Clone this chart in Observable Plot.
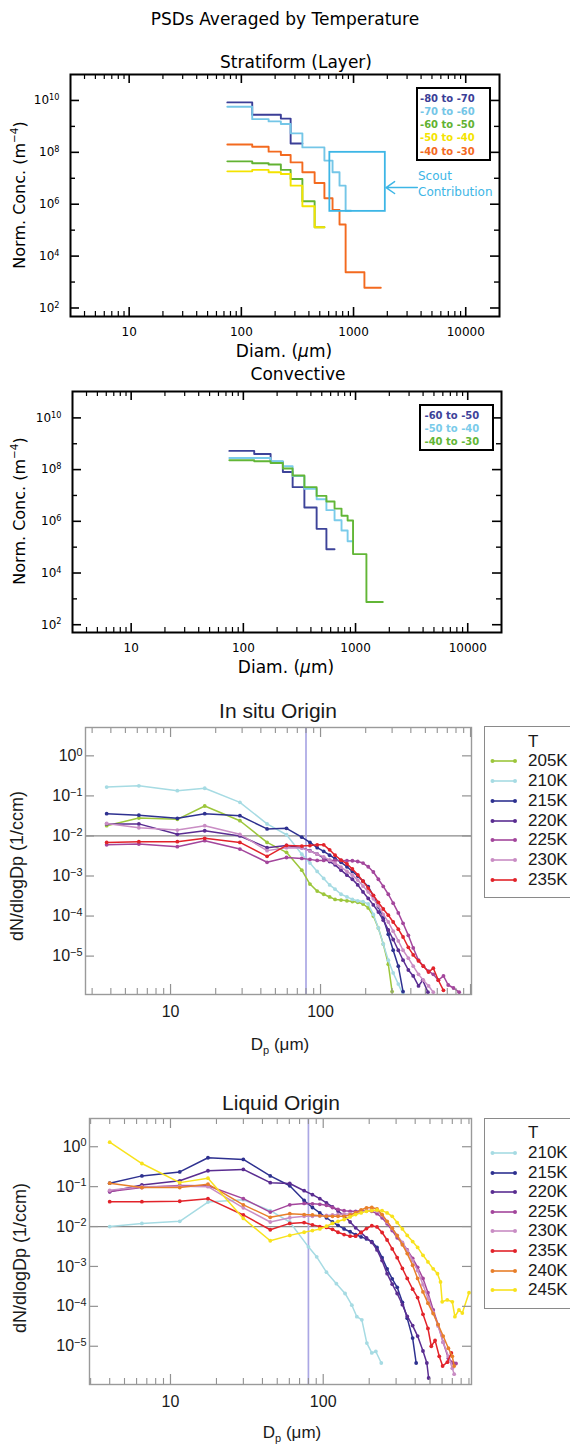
<!DOCTYPE html>
<html>
<head>
<meta charset="utf-8">
<script src="https://cdn.jsdelivr.net/npm/d3@7"></script>
<script src="https://cdn.jsdelivr.net/npm/@observablehq/plot@0.6"></script>
<style>
  html,body{margin:0;padding:0;background:#fff;}
  #root{position:relative;width:570px;height:1445px;overflow:hidden;background:#fff;}
  #root svg.plot{position:absolute;left:0;}
  .t{position:absolute;white-space:nowrap;line-height:1;}
  .t sup{font-size:65%;vertical-align:super;line-height:0;}
  .t sub{font-size:65%;vertical-align:sub;line-height:0;}
</style>
</head>
<body>
<div id="root"></div>
<script>
// ================= DATA =================
// --- IDL panels (Stratiform / Convective), step PSDs, bin edges in micrometres ---
const binEdges = [75, 125, 175, 225, 275, 350, 450, 550, 650, 750, 850, 950, 1250, 1750];

const stratLabels = ["-80 to -70", "-70 to -60", "-60 to -50", "-50 to -40", "-40 to -30"];
const stratColors = ["#3b3e97", "#74c6e7", "#62b232", "#f4e300", "#f36a1f"];
const strat8070 = [8.4e9, 2.8e9, 2.8e9, 2.0e9, 2.2e8];
const strat7060 = [5.7e9, 1.9e9, 1.56e9, 1.24e9, 5.4e8, 1.55e8, 1.55e8, 4.8e7, 1.7e7, 5.2e6, 5.6e5];
const strat6050 = [4.5e7, 3.8e7, 3.4e7, 2.1e7, 9.4e6, 1.3e6, 1.3e5];
const strat5040 = [1.85e7, 2.1e7, 1.7e7, 1.47e7, 5.2e6, 8.3e5, 1.3e5];
const strat4030 = [2.0e8, 1.65e8, 1.06e8, 7.9e7, 4.1e7, 1.7e7, 6.6e6, 1.7e6, 6.0e5, 1.66e5, 2.4e3, 2.4e3, 6.0e2];

const scoutColor = "#3db6e6";
const scoutBoxD = [615, 1920];
const scoutBoxN = [5.3e5, 1.0e8];
const scoutArrowD = [3700, 1950];
const scoutArrowN = [4.4e6, 4.4e6];

const convLabels = ["-60 to -50", "-50 to -40", "-40 to -30"];
const convColors = ["#3d4399", "#7acbea", "#62b636"];
const conv6050 = [5.3e8, 4.0e8, 2.0e8, 8.1e7, 2.1e7, 3.4e6, 5.1e5, 8.3e4];
const conv5040 = [2.8e8, 2.8e8, 2.1e8, 1.34e8, 5.6e7, 1.8e7, 7.1e6, 2.7e6, 1.1e6, 4.4e5, 1.7e5];
const conv4030 = [2.3e8, 2.1e8, 1.8e8, 1.1e8, 5.9e7, 2.1e7, 9.6e6, 5.8e6, 3.1e6, 1.65e6, 1.07e6, 5.4e4, 7.6e2];

const idlXDomain = [3, 20000];
const idlXMajor = [10, 100, 1000, 10000];
const idlXMinor = [4,5,6,7,8,9,20,30,40,50,60,70,80,90,200,300,400,500,600,700,800,900,2000,3000,4000,5000,6000,7000,8000,9000];
const idlYMajor = [1e2, 1e4, 1e6, 1e8, 1e10];
const idlYMinor = [1e3, 1e5, 1e7, 1e9];

// --- In situ origin (dN/dlogDp, 1/ccm) ---
const insituLabels = ["205K", "210K", "215K", "220K", "225K", "230K", "235K"];
const insituColors = ["#9cc63b", "#a6dbe3", "#2e3190", "#5a2d91", "#a3469c", "#c98dc4", "#e2232a"];
const insituD205 = [3.75,6.15,11.1,16.9,29,44,59.3,75,85,95,105,115,125,137,150,163,177,192,208,225,243,262,283,300];
const insituN205 = [1.8e-2,2.8e-2,2.6e-2,5.6e-2,2.4e-2,6.9e-3,3.9e-3,1.4e-3,6.3e-4,4.2e-4,3.5e-4,3.0e-4,2.6e-4,2.5e-4,2.4e-4,2.3e-4,2.2e-4,2.0e-4,1.6e-4,1.0e-4,5.0e-5,2.0e-5,6.3e-6,1.3e-6];
const insituD210 = [3.75,6.15,11.1,16.9,29,44,59.3,75,85,95,105,115,125,137,150,163,177,192,208,225,243,262,283,305,330,355];
const insituN210 = [1.66e-1,1.78e-1,1.35e-1,1.55e-1,6.9e-2,2.0e-2,1.07e-2,3.5e-3,2.1e-3,1.3e-3,8.7e-4,6.0e-4,4.7e-4,3.5e-4,3.0e-4,2.6e-4,2.4e-4,2.3e-4,2.0e-4,1.1e-4,5.0e-5,2.0e-5,7.9e-6,3.8e-6,2.0e-6,1.1e-6];
const insituD215 = [3.75,6.15,11.1,16.9,29,44,59.3,75,85,95,105,115,125,137,150,163,177,192,208,225,243,262,283,305,330,355];
const insituN215 = [3.6e-2,3.3e-2,2.75e-2,3.6e-2,3.2e-2,1.5e-2,1.55e-2,9.3e-3,6.9e-3,5.1e-3,4.1e-3,3.3e-3,2.7e-3,2.2e-3,1.7e-3,1.3e-3,1.0e-3,7.4e-4,5.4e-4,3.2e-4,1.7e-4,8.9e-5,3.5e-5,1.4e-5,5.6e-6,1.3e-6];
const insituD220 = [3.75,6.15,11.1,16.9,29,44,59.3,75,85,95,105,115,125,137,150,163,177,192,208,225,243,262,283,305,330,355,385,415,450,480,520];
const insituN220 = [2.0e-2,2.0e-2,1.1e-2,1.35e-2,1.0e-2,5.1e-3,5.8e-3,5.1e-3,4.3e-3,3.5e-3,2.8e-3,2.3e-3,1.9e-3,1.4e-3,1.05e-3,8.3e-4,6.0e-4,4.0e-4,2.75e-4,1.9e-4,1.26e-4,7.9e-5,4.5e-5,2.6e-5,1.4e-5,7.9e-6,4.5e-6,3.2e-6,1.8e-6,2.5e-6,1.26e-6];
const insituD225 = [3.75,6.15,11.1,16.9,29,44,59.3,75,85,95,105,115,125,137,150,163,177,192,208,225,243,262,283,305,330,355,385,415,450,485,525,565,610,660,710,770,840];
const insituN225 = [6.0e-3,6.3e-3,5.4e-3,7.6e-3,4.7e-3,2.2e-3,2.9e-3,2.75e-3,2.6e-3,2.45e-3,2.45e-3,2.45e-3,2.45e-3,2.45e-3,2.4e-3,2.4e-3,2.3e-3,2.1e-3,1.7e-3,1.26e-3,8.3e-4,5.5e-4,3.5e-4,2.1e-4,1.2e-4,6.6e-5,3.3e-5,1.6e-5,7.9e-6,5.6e-6,4.2e-6,3.5e-6,2.5e-6,3.2e-6,1.9e-6,1.6e-6,1.26e-6];
const insituD230 = [3.75,6.15,11.1,16.9,29,44,59.3,75,85,95,105,115,125,137,150,163,177,192,208,225,243,262,283,305,330,355,385,415,450,485,525,565];
const insituN230 = [2.05e-2,1.6e-2,1.4e-2,1.8e-2,1.1e-2,4.3e-3,5.1e-3,5.0e-3,4.2e-3,3.5e-3,3.0e-3,2.5e-3,2.1e-3,1.66e-3,1.3e-3,1.05e-3,7.9e-4,5.6e-4,4.0e-4,2.7e-4,1.8e-4,1.1e-4,7.1e-5,4.2e-5,2.4e-5,1.4e-5,8.9e-6,5.6e-6,3.5e-6,2.5e-6,1.8e-6,1.26e-6];
const insituD235 = [3.75,6.15,11.1,16.9,29,44,59.3,75,85,95,105,115,125,137,150,163,177,192,208,225,243,262,283,305,330,355,385,415,450,485,525,565,610,660];
const insituN235 = [6.9e-3,7.2e-3,7.2e-3,8.7e-3,6.9e-3,3.1e-3,5.8e-3,5.6e-3,5.75e-3,6.0e-3,6.0e-3,4.5e-3,3.3e-3,2.5e-3,2.0e-3,1.5e-3,1.07e-3,7.4e-4,5.0e-4,3.3e-4,2.2e-4,1.5e-4,1.05e-4,7.1e-5,4.7e-5,3.0e-5,1.66e-5,1.07e-5,7.6e-6,5.6e-6,4.0e-6,5.0e-6,2.5e-6,1.4e-6];

// --- Liquid origin ---
const liquidLabels = ["210K", "215K", "220K", "225K", "230K", "235K", "240K", "245K"];
const liquidColors = ["#a6dbe3", "#2e3190", "#5a2d91", "#a3469c", "#c98dc4", "#e2232a", "#e87f2a", "#f8e21c"];
const liquidD210 = [4.0,6.5,11.5,17.6,30,45,60.4,80,90.6,105,122,139,154,166,179,193,208,221,240];
const liquidN210 = [1.0e-2,1.2e-2,1.35e-2,4.1e-2,4.7e-2,2.5e-2,1.3e-2,3.1e-3,1.74e-3,7.2e-4,3.7e-4,2.1e-4,1.07e-4,5.5e-5,4.6e-5,1.2e-5,6.8e-6,7.4e-6,3.8e-6];
const liquidD215 = [4.0,6.5,11.5,17.6,30,45,60.4,75,85,95,105,115,125,137,150,163,177,192,208,225,243,262,283,305,330,355,385,406];
const liquidN215 = [1.22e-1,1.86e-1,2.34e-1,5.3e-1,4.8e-1,1.86e-1,1.05e-1,4.5e-2,3.0e-2,2.2e-2,1.66e-2,1.3e-2,1.07e-2,8.7e-3,7.4e-3,6.3e-3,5.5e-3,4.9e-3,4.2e-3,3.0e-3,1.66e-3,8.7e-4,4.9e-4,3.0e-4,1.26e-4,5.0e-5,1.6e-5,3.8e-6];
const liquidD220 = [4.0,6.5,11.5,17.6,30,45,60.4,75,85,95,105,115,125,137,150,163,177,192,208,225,243,262,283,305,330,355,385,415,450,477,490];
const liquidN220 = [7.4e-2,1.1e-1,1.4e-1,2.5e-1,2.7e-1,1.26e-1,1.2e-1,7.9e-2,6.3e-2,5.0e-2,3.9e-2,3.1e-2,2.45e-2,1.86e-2,1.3e-2,9.3e-3,7.1e-3,5.2e-3,4.0e-3,2.6e-3,1.4e-3,6.6e-4,3.6e-4,2.1e-4,1.1e-4,5.6e-5,3.3e-5,1.8e-5,7.6e-6,3.8e-6,1.6e-6];
const liquidD225 = [4.0,6.5,11.5,17.6,30,45,60.4,75,85,95,105,115,125,137,150,163,177,192,208,225,243,262,283,305,330,355,385,415,450,485,525,565,610,660,710,740];
const liquidN225 = [7.6e-2,9.5e-2,1.07e-1,1.05e-1,5.0e-2,2.3e-2,3.5e-2,3.8e-2,3.7e-2,3.6e-2,3.4e-2,3.0e-2,2.7e-2,2.5e-2,2.4e-2,2.4e-2,2.5e-2,2.5e-2,2.4e-2,2.1e-2,1.66e-2,1.17e-2,7.9e-3,5.2e-3,3.8e-3,2.6e-3,1.6e-3,9.5e-4,5.0e-4,2.2e-4,8.1e-5,3.5e-5,1.26e-5,5.0e-6,3.8e-6,3.7e-6];
const liquidD230 = [4.0,6.5,11.5,17.6,30,45,60.4,75,85,95,105,115,125,137,150,163,177,192,208,225,243,262,283,305,330,355,385,415,450,485,525,565,610,660,700,720];
const liquidN230 = [8.1e-2,1.0e-1,1.02e-1,1.0e-1,2.95e-2,1.3e-2,1.66e-2,1.8e-2,1.8e-2,1.86e-2,1.9e-2,1.95e-2,2.0e-2,2.05e-2,2.1e-2,2.2e-2,2.3e-2,2.5e-2,2.6e-2,2.4e-2,1.9e-2,1.3e-2,8.9e-3,6.0e-3,4.0e-3,2.5e-3,1.4e-3,7.9e-4,3.5e-4,1.6e-4,7.1e-5,3.2e-5,1.26e-5,5.6e-6,2.8e-6,2.0e-6];
const liquidD235 = [4.0,6.5,11.5,17.6,30,45,60.4,75,85,95,105,115,125,137,150,163,177,192,208,225,243,262,283,305,330,355,385,415,450,485,510,540,575,605,650,690];
const liquidN235 = [4.2e-2,4.2e-2,4.3e-2,5.0e-2,1.95e-2,8.3e-3,1.2e-2,1.26e-2,1.1e-2,1.0e-2,9.5e-3,8.5e-3,7.2e-3,6.3e-3,5.75e-3,5.75e-3,7.1e-3,8.9e-3,1.05e-2,9.8e-3,7.1e-3,4.6e-3,2.75e-3,1.66e-3,8.9e-4,5.0e-4,2.7e-4,1.66e-4,6.3e-5,2.8e-5,1.0e-5,1.4e-5,5.6e-6,3.2e-6,4.0e-6,6.8e-6];
const liquidD240 = [4.0,6.5,11.5,17.6,30,45,60.4,75,85,95,105,115,125,137,150,163,177,192,208,225,243,262,283,305,330,355,385,415,450,485,525,565,610,660,700,720];
const liquidN240 = [1.22e-1,9.5e-2,9.5e-2,1.15e-1,3.5e-2,1.7e-2,2.1e-2,2.0e-2,1.95e-2,1.86e-2,1.8e-2,1.8e-2,1.8e-2,1.8e-2,1.95e-2,2.2e-2,2.6e-2,2.95e-2,3.0e-2,2.75e-2,2.0e-2,1.35e-2,9.1e-3,5.9e-3,3.5e-3,2.1e-3,1.07e-3,5.0e-4,2.3e-4,1.2e-4,6.6e-5,3.5e-5,1.8e-5,8.9e-6,5.6e-6,3.2e-6];
const liquidD245 = [4.0,6.5,11.5,17.6,30,45,60.4,75,85,95,105,115,125,137,150,163,177,192,208,225,243,262,283,305,330,355,385,415,450,485,525,560,586,601,649,700,728,774,814,901];
const liquidN245 = [1.3,3.8e-1,1.26e-1,1.63e-1,1.6e-2,4.4e-3,6.0e-3,7.2e-3,7.9e-3,8.7e-3,1.02e-2,1.2e-2,1.35e-2,1.5e-2,1.74e-2,2.0e-2,2.2e-2,2.4e-2,2.5e-2,2.6e-2,2.5e-2,2.2e-2,1.8e-2,1.26e-2,8.7e-3,6.0e-3,4.2e-3,3.0e-3,1.9e-3,1.3e-3,8.7e-4,6.6e-4,4.1e-4,1.3e-4,1.45e-4,1.3e-4,5.5e-5,8.1e-5,6.8e-5,2.2e-4];

const refLevel = [0.01];
const refDiam = [80];
const bioXMajor = [10, 100, 1000];
const bioXMinor = [3,4,5,6,7,8,9,20,30,40,50,60,70,80,90,200,300,400,500,600,700,800,900];
const bioYMajor = [1, 1e-1, 1e-2, 1e-3, 1e-4, 1e-5];
const bioYDomain = [1.1e-6, 5.1];

// ================= HELPERS =================
const root = document.getElementById("root");
function txt(html, x, y, font, color, anchor) {
  const d = document.createElement("div");
  d.className = "t";
  d.innerHTML = html;
  d.style.left = x + "px";
  d.style.top = y + "px";
  d.style.font = font;
  d.style.color = color || "#000";
  d.style.transform = anchor === "left" ? "translate(0,-50%)"
    : anchor === "rot" ? "translate(-50%,-50%) rotate(-90deg)" : "translate(-50%,-50%)";
  root.appendChild(d);
  return d;
}
function supTicks(svg) {
  d3.select(svg).selectAll("text").each(function () {
    const m = /^10\^(.+)$/.exec(this.textContent);
    if (!m) return;
    const s = d3.select(this);
    s.text(null);
    s.append("tspan").text("10");
    s.append("tspan").attr("dy", "-0.5em").attr("font-size", "0.68em").text(m[1]);
  });
}
function mount(svg, top) {
  svg.classList.add("plot");
  svg.style.position = "absolute";
  svg.style.top = top + "px";
  svg.style.left = "0px";
  root.appendChild(svg);
}
const expFmt = d => { const e = Math.round(Math.log10(d)); return "10^" + (e < 0 ? "\u2212" + (-e) : e); };

// ================= IDL PANELS =================
function idlPanel(o) {
  const W = 570, fw = W - o.ml - o.mr, fh = o.h - o.mt - o.mb;
  const marks = [];
  o.series.forEach((vals, i) => {
    const pts = vals.map((v, j) => ({ d: binEdges[j], n: v }));
    pts.push({ d: binEdges[vals.length], n: vals[vals.length - 1] });
    marks.push(Plot.line(pts, { x: "d", y: "n", curve: "step-after", stroke: o.colors[i], strokeWidth: 1.9 }));
  });
  if (o.extra) marks.push(...o.extra);
  const k = "#000";
  marks.push(
    Plot.tickY(idlYMajor, { y: d => d, insetRight: fw - 9, stroke: k, strokeWidth: 1.6 }),
    Plot.tickY(idlYMajor, { y: d => d, insetLeft: fw - 9, stroke: k, strokeWidth: 1.6 }),
    Plot.tickY(idlYMinor, { y: d => d, insetRight: fw - 5, stroke: k, strokeWidth: 1.4 }),
    Plot.tickY(idlYMinor, { y: d => d, insetLeft: fw - 5, stroke: k, strokeWidth: 1.4 }),
    Plot.tickX(idlXMajor, { x: d => d, insetTop: fh - 9, stroke: k, strokeWidth: 1.6 }),
    Plot.tickX(idlXMajor, { x: d => d, insetBottom: fh - 9, stroke: k, strokeWidth: 1.6 }),
    Plot.tickX(idlXMinor, { x: d => d, insetTop: fh - 5, stroke: k, strokeWidth: 1.2 }),
    Plot.tickX(idlXMinor, { x: d => d, insetBottom: fh - 5, stroke: k, strokeWidth: 1.2 }),
    Plot.frame({ stroke: k, strokeWidth: 2 }),
    Plot.axisX({ ticks: idlXMajor, tickSize: 0, tickPadding: 11, tickFormat: d => String(d), label: null, fontSize: 12 }),
    Plot.axisY({ ticks: idlYMajor, tickSize: 0, tickPadding: 11, tickFormat: expFmt, label: null, fontSize: 12 })
  );
  const svg = Plot.plot({
    width: W, height: o.h, marginTop: o.mt, marginBottom: o.mb, marginLeft: o.ml, marginRight: o.mr,
    x: { type: "log", domain: idlXDomain },
    y: { type: "log", domain: o.yDomain },
    style: { fontFamily: "DejaVu Sans", fontSize: "12px", background: "transparent", color: "#000", overflow: "visible" },
    marks
  });
  supTicks(svg);
  mount(svg, o.top);
}
function idlLegend(left, top, w, h, labels, colors, textLeft, firstY, step) {
  const box = document.createElement("div");
  Object.assign(box.style, { position: "absolute", left: left + "px", top: top + "px", width: w + "px", height: h + "px",
    border: "2px solid #000", boxSizing: "border-box", background: "#fff" });
  root.appendChild(box);
  labels.forEach((l, i) => txt(l, textLeft, firstY + i * step, "bold 10px 'DejaVu Sans'", colors[i], "left"));
}

// ================= BIO PANELS =================
function bioPanel(o) {
  const W = 570, fw = W - o.ml - o.mr, fh = o.h - o.mt - o.mb;
  const g = "#929292";
  const inX = v => v >= o.xDomain[0] && v <= o.xDomain[1];
  const marks = [
    Plot.ruleY(refLevel, { stroke: "#8a8a8a", strokeWidth: 1.3 }),
    Plot.ruleX(refDiam, { stroke: "#aba7e4", strokeWidth: 1.7 })
  ];
  o.series.forEach(s => {
    const pts = s.D.map((d, i) => ({ d, n: s.N[i] }));
    marks.push(Plot.line(pts, { x: "d", y: "n", stroke: s.color, strokeWidth: 1.5, clip: true }));
    marks.push(Plot.dot(pts, { x: "d", y: "n", fill: s.color, r: 1.9, clip: true }));
  });
  marks.push(
    Plot.tickY(bioYMajor, { y: d => d, insetRight: fw - 9, stroke: g, strokeWidth: 1.2 }),
    Plot.tickY(bioYMajor, { y: d => d, insetLeft: fw - 9, stroke: g, strokeWidth: 1.2 }),
    Plot.tickX(bioXMajor.filter(inX), { x: d => d, insetTop: fh - 10, stroke: g, strokeWidth: 1.2 }),
    Plot.tickX(bioXMajor.filter(inX), { x: d => d, insetBottom: fh - 10, stroke: g, strokeWidth: 1.2 }),
    Plot.tickX(bioXMinor.filter(inX), { x: d => d, insetTop: fh - 6, stroke: g, strokeWidth: 1.1 }),
    Plot.tickX(bioXMinor.filter(inX), { x: d => d, insetBottom: fh - 6, stroke: g, strokeWidth: 1.1 }),
    Plot.frame({ stroke: "#9a9a9a", strokeWidth: 1.4 }),
    Plot.axisX({ ticks: [10, 100], tickSize: 0, tickPadding: 11, tickFormat: d => String(d), label: null, fontSize: 16 }),
    Plot.axisY({ ticks: bioYMajor, tickSize: 0, tickPadding: 3, tickFormat: expFmt, label: null, fontSize: 16 })
  );
  const svg = Plot.plot({
    width: W, height: o.h, marginTop: o.mt, marginBottom: o.mb, marginLeft: o.ml, marginRight: o.mr,
    x: { type: "log", domain: o.xDomain },
    y: { type: "log", domain: bioYDomain },
    style: { fontFamily: "'Liberation Sans', Arial, 'DejaVu Sans', sans-serif", fontSize: "16px", background: "transparent", color: "#1a1a1a", overflow: "visible" },
    marks
  });
  supTicks(svg);
  mount(svg, o.top);
}
function bioLegend(top, h, labels, colors, tY, step) {
  const box = document.createElement("div");
  Object.assign(box.style, { position: "absolute", left: "484px", top: top + "px", width: "110px", height: h + "px",
    border: "1.5px solid #8a8a8a", boxSizing: "border-box" });
  root.appendChild(box);
  const f = "17px 'Liberation Sans', Arial, sans-serif";
  txt("T", 528, tY, f, "#1a1a1a", "left");
  const ns = "http://www.w3.org/2000/svg";
  labels.forEach((l, i) => {
    const y = tY + step * (i + 1);
    const s = document.createElementNS(ns, "svg");
    s.setAttribute("width", "28"); s.setAttribute("height", "8");
    Object.assign(s.style, { position: "absolute", left: "490px", top: (y - 4) + "px" });
    const ln = document.createElementNS(ns, "line");
    ln.setAttribute("x1", "2.5"); ln.setAttribute("x2", "25"); ln.setAttribute("y1", "4"); ln.setAttribute("y2", "4");
    ln.setAttribute("stroke", colors[i]); ln.setAttribute("stroke-width", "1.6");
    s.appendChild(ln);
    [2.5, 25].forEach(cx => {
      const c = document.createElementNS(ns, "circle");
      c.setAttribute("cx", cx); c.setAttribute("cy", "4"); c.setAttribute("r", "2");
      c.setAttribute("fill", colors[i]);
      s.appendChild(c);
    });
    root.appendChild(s);
    txt(l, 528, y, f, "#1a1a1a", "left");
  });
}

// ================= BUILD =================
// Panel 1: Stratiform
txt("PSDs Averaged by Temperature", 285, 19, "17px 'DejaVu Sans'");
txt("Stratiform (Layer)", 296, 62, "17px 'DejaVu Sans'");
idlPanel({
  top: 60, h: 300, mt: 14, mb: 44, ml: 70, mr: 71, yDomain: [47, 1e11],
  series: [strat8070, strat7060, strat6050, strat5040, strat4030], colors: stratColors,
  extra: [
    Plot.rect([{ x1: scoutBoxD[0], x2: scoutBoxD[1], y1: scoutBoxN[0], y2: scoutBoxN[1] }],
      { x1: "x1", x2: "x2", y1: "y1", y2: "y2", fill: "none", stroke: scoutColor, strokeWidth: 1.8 }),
    Plot.arrow([{ x1: scoutArrowD[0], y1: scoutArrowN[0], x2: scoutArrowD[1], y2: scoutArrowN[1] }],
      { x1: "x1", y1: "y1", x2: "x2", y2: "y2", stroke: scoutColor, strokeWidth: 1.5, headLength: 11, headAngle: 70 })
  ]
});
txt("Norm. Conc. (m<sup>\u22124</sup>)", 19, 195, "16px 'DejaVu Sans'", "#000", "rot");
txt("Diam. (<i>\u03bc</i>m)", 284, 351, "17px 'DejaVu Sans'");
idlLegend(416, 87, 75, 74, stratLabels, stratColors, 420, 97.5, 13.3);
txt("Scout", 418, 176, "12px 'DejaVu Sans'", scoutColor, "left");
txt("Contribution", 418, 192, "12px 'DejaVu Sans'", scoutColor, "left");

// Panel 2: Convective
txt("Convective", 298, 374, "17px 'DejaVu Sans'");
idlPanel({
  top: 370, h: 300, mt: 21, mb: 38, ml: 72, mr: 69, yDomain: [50, 1.05e11],
  series: [conv6050, conv5040, conv4030], colors: convColors
});
txt("Norm. Conc. (m<sup>\u22124</sup>)", 19, 511, "16px 'DejaVu Sans'", "#000", "rot");
txt("Diam. (<i>\u03bc</i>m)", 286, 667, "17px 'DejaVu Sans'");
idlLegend(419, 404, 75, 47, convLabels, convColors, 424.5, 414.5, 13.4);

// Panel 3: In situ origin
const insituD = [insituD205, insituD210, insituD215, insituD220, insituD225, insituD230, insituD235];
const insituN = [insituN205, insituN210, insituN215, insituN220, insituN225, insituN230, insituN235];
txt("In situ Origin", 278, 711, "21px 'Liberation Sans', Arial, sans-serif", "#1a1a1a");
bioPanel({
  top: 700, h: 340, mt: 27, mb: 46, ml: 85, mr: 99, xDomain: [2.71, 1015],
  series: insituLabels.map((l, i) => ({ label: l, color: insituColors[i], D: insituD[i], N: insituN[i] }))
});
txt("dN/dlogDp (1/ccm)", 17, 866, "18px 'Liberation Sans', Arial, sans-serif", "#1a1a1a", "rot");
txt("D<sub>p</sub> (\u03bcm)", 280, 1045, "17px 'Liberation Sans', Arial, sans-serif", "#1a1a1a");
bioLegend(726, 172, insituLabels, insituColors, 741.7, 19.75);

// Panel 4: Liquid origin
const liquidD = [liquidD210, liquidD215, liquidD220, liquidD225, liquidD230, liquidD235, liquidD240, liquidD245];
const liquidN = [liquidN210, liquidN215, liquidN220, liquidN225, liquidN230, liquidN235, liquidN240, liquidN245];
txt("Liquid Origin", 281, 1103, "21px 'Liberation Sans', Arial, sans-serif", "#1a1a1a");
bioPanel({
  top: 1090, h: 340, mt: 28, mb: 46, ml: 89, mr: 99, xDomain: [2.95, 935],
  series: liquidLabels.map((l, i) => ({ label: l, color: liquidColors[i], D: liquidD[i], N: liquidN[i] }))
});
txt("dN/dlogDp (1/ccm)", 20, 1258, "18px 'Liberation Sans', Arial, sans-serif", "#1a1a1a", "rot");
txt("D<sub>p</sub> (\u03bcm)", 292, 1433, "17px 'Liberation Sans', Arial, sans-serif", "#1a1a1a");
bioLegend(1118, 191, liquidLabels, liquidColors, 1133.3, 19.6);
</script>
</body>
</html>
